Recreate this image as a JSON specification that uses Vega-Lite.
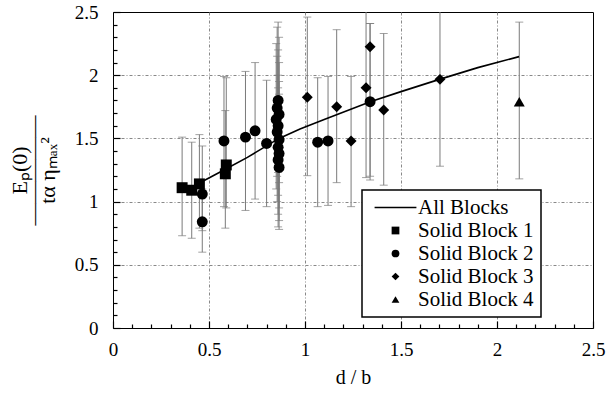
{
  "$schema": "https://vega.github.io/schema/vega-lite/v6.json",
  "autosize": {"type": "none"},
  "padding": {"left": 113, "top": 12, "right": 17, "bottom": 68},
  "width": 480,
  "height": 316,
  "background": "white",
  "config": {
    "view": {"stroke": "black", "strokeWidth": 1},
    "font": "Liberation Serif",
    "axis": {
      "domain": false,
      "ticks": true,
      "labelFont": "Liberation Serif",
      "labelFontSize": 19,
      "labelColor": "black",
      "labelOverlap": false,
      "tickCount": 30,
      "titleFont": "Liberation Serif",
      "titleFontSize": 20,
      "titleFontWeight": "normal",
      "titleColor": "black",
      "tickColor": "black",
      "tickWidth": 1.2,
      "gridColor": "#888888",
      "gridDash": [3, 2, 1, 2],
      "gridWidth": 1
    },
    "legend": {
      "orient": "none",
      "legendX": 249,
      "legendY": 178,
      "fillColor": "white",
      "strokeColor": "black",
      "strokeWidth": 1.5,
      "padding": 7,
      "labelFont": "Liberation Serif",
      "labelFontSize": 21,
      "labelColor": "black",
      "symbolFillColor": "black",
      "symbolStrokeColor": "black",
      "symbolStrokeWidth": 0,
      "symbolSize": 60,
      "symbolOffset": 16,
      "labelOffset": 12,
      "rowPadding": 1
    }
  },
  "datasets": {
    "pts": [
      {"block": "Solid Block 1", "x": 0.36, "y": 1.11, "lo": 0.73, "hi": 1.51},
      {"block": "Solid Block 1", "x": 0.41, "y": 1.09, "lo": 0.71, "hi": 1.47},
      {"block": "Solid Block 1", "x": 0.45, "y": 1.14, "lo": 0.79, "hi": 1.53},
      {"block": "Solid Block 1", "x": 0.585, "y": 1.22, "lo": 0.79, "hi": 1.72},
      {"block": "Solid Block 1", "x": 0.59, "y": 1.29, "lo": 0.95, "hi": 1.98},
      {"block": "Solid Block 2", "x": 0.465, "y": 1.06, "lo": 0.77, "hi": 1.44},
      {"block": "Solid Block 2", "x": 0.465, "y": 0.84, "lo": 0.6, "hi": 1.1},
      {"block": "Solid Block 2", "x": 0.578, "y": 1.48, "lo": 0.96, "hi": 1.99},
      {"block": "Solid Block 2", "x": 0.69, "y": 1.51, "lo": 0.93, "hi": 2.03},
      {"block": "Solid Block 2", "x": 0.74, "y": 1.56, "lo": 1.02, "hi": 2.1},
      {"block": "Solid Block 2", "x": 0.8, "y": 1.46, "lo": 0.96, "hi": 1.96},
      {"block": "Solid Block 2", "x": 0.86, "y": 1.8, "lo": 1.23, "hi": 2.42},
      {"block": "Solid Block 2", "x": 0.855, "y": 1.74, "lo": 1.2, "hi": 2.38},
      {"block": "Solid Block 2", "x": 0.865, "y": 1.69, "lo": 1.15, "hi": 2.3},
      {"block": "Solid Block 2", "x": 0.85, "y": 1.65, "lo": 1.1, "hi": 2.25},
      {"block": "Solid Block 2", "x": 0.86, "y": 1.6, "lo": 1.05, "hi": 2.2},
      {"block": "Solid Block 2", "x": 0.855, "y": 1.55, "lo": 1.0, "hi": 2.15},
      {"block": "Solid Block 2", "x": 0.865, "y": 1.49, "lo": 0.95, "hi": 2.1},
      {"block": "Solid Block 2", "x": 0.86, "y": 1.43, "lo": 0.9, "hi": 2.0},
      {"block": "Solid Block 2", "x": 0.865, "y": 1.38, "lo": 0.85, "hi": 1.95},
      {"block": "Solid Block 2", "x": 0.86, "y": 1.33, "lo": 0.8, "hi": 1.9},
      {"block": "Solid Block 2", "x": 0.865, "y": 1.27, "lo": 0.78, "hi": 1.85},
      {"block": "Solid Block 2", "x": 1.066, "y": 1.47, "lo": 0.96, "hi": 1.98},
      {"block": "Solid Block 2", "x": 1.12, "y": 1.48, "lo": 0.97, "hi": 1.99},
      {"block": "Solid Block 2", "x": 1.339, "y": 1.79, "lo": 1.17, "hi": 2.41},
      {"block": "Solid Block 3", "x": 1.012, "y": 1.825, "lo": 1.205, "hi": 2.46},
      {"block": "Solid Block 3", "x": 1.165, "y": 1.75, "lo": 1.15, "hi": 2.36},
      {"block": "Solid Block 3", "x": 1.24, "y": 1.48, "lo": 0.96, "hi": 1.99},
      {"block": "Solid Block 3", "x": 1.318, "y": 1.9, "lo": 1.19, "hi": 2.6},
      {"block": "Solid Block 3", "x": 1.339, "y": 2.225, "lo": 1.2, "hi": 2.41},
      {"block": "Solid Block 3", "x": 1.41, "y": 1.725, "lo": 1.13, "hi": 2.33},
      {"block": "Solid Block 3", "x": 1.703, "y": 1.967, "lo": 1.28, "hi": 2.6},
      {"block": "Solid Block 4", "x": 2.116, "y": 1.79, "lo": 1.18, "hi": 2.42}
    ],
    "fit": [
      {"x": 0.448, "y": 1.145},
      {"x": 0.59, "y": 1.26},
      {"x": 0.7, "y": 1.35},
      {"x": 0.865, "y": 1.5},
      {"x": 0.974, "y": 1.575},
      {"x": 1.1, "y": 1.65},
      {"x": 1.34, "y": 1.79},
      {"x": 1.5, "y": 1.87},
      {"x": 1.7, "y": 1.967},
      {"x": 1.9, "y": 2.06},
      {"x": 2.115, "y": 2.147}
    ]
  },
  "layer": [
    {
      "data": {"name": "pts"},
      "mark": {"type": "rule", "color": "#7a7a7a", "strokeWidth": 1, "clip": true},
      "encoding": {
        "x": {
          "field": "x", "type": "quantitative",
          "scale": {"domain": [0, 2.5], "nice": false, "zero": false},
          "axis": {
            "title": "d / b",
            "titlePadding": 5,
            "values": [0,0.1,0.2,0.3,0.4,0.5,0.6,0.7,0.8,0.9,1,1.1,1.2,1.3,1.4,1.5,1.6,1.7,1.8,1.9,2,2.1,2.2,2.3,2.4,2.5],
            "labelExpr": "abs(round(datum.value*10) % 5) == 0 ? format(datum.value, '~g') : ''",
            "tickSize": {"condition": {"test": "abs(round(datum.value*10) % 5) == 0", "value": -7}, "value": -4},
            "gridOpacity": {"condition": {"test": "abs(round(datum.value*10) % 5) == 0 && datum.value > 0 && datum.value < 2.5", "value": 1}, "value": 0},
            "labelPadding": 19,
            "labelFlush": false
          }
        },
        "y": {
          "field": "lo", "type": "quantitative",
          "scale": {"domain": [0, 2.5], "nice": false},
          "axis": {
            "title": ["Eₚ(0)", "—————", "tα ηₘₐₓ²"],
            "titleFontSize": 22,
            "titleLineHeight": 14,
            "titlePadding": 15,
            "values": [0,0.1,0.2,0.3,0.4,0.5,0.6,0.7,0.8,0.9,1,1.1,1.2,1.3,1.4,1.5,1.6,1.7,1.8,1.9,2,2.1,2.2,2.3,2.4,2.5],
            "labelExpr": "abs(round(datum.value*10) % 5) == 0 ? format(datum.value, '~g') : ''",
            "tickSize": {"condition": {"test": "abs(round(datum.value*10) % 5) == 0", "value": -7}, "value": -4},
            "gridOpacity": {"condition": {"test": "abs(round(datum.value*10) % 5) == 0 && datum.value > 0 && datum.value < 2.5", "value": 1}, "value": 0},
            "labelPadding": 22,
            "labelFlush": false
          }
        },
        "y2": {"field": "hi"}
      }
    },
    {
      "data": {"name": "pts"},
      "mark": {"type": "tick", "orient": "horizontal", "color": "#7a7a7a", "size": 8, "thickness": 1, "clip": true},
      "encoding": {
        "x": {"field": "x", "type": "quantitative"},
        "y": {"field": "lo", "type": "quantitative"}
      }
    },
    {
      "data": {"name": "pts"},
      "mark": {"type": "tick", "orient": "horizontal", "color": "#7a7a7a", "size": 8, "thickness": 1, "clip": true},
      "encoding": {
        "x": {"field": "x", "type": "quantitative"},
        "y": {"field": "hi", "type": "quantitative"}
      }
    },
    {
      "data": {"name": "fit"},
      "mark": {"type": "line", "color": "black", "strokeWidth": 1.6},
      "encoding": {
        "x": {"field": "x", "type": "quantitative"},
        "y": {"field": "y", "type": "quantitative"}
      }
    },
    {
      "data": {"name": "pts"},
      "mark": {"type": "point", "filled": true, "color": "black", "opacity": 1, "size": 120},
      "encoding": {
        "x": {"field": "x", "type": "quantitative"},
        "y": {"field": "y", "type": "quantitative"},
        "shape": {
          "field": "block", "type": "nominal",
          "scale": {
            "domain": ["All Blocks", "Solid Block 1", "Solid Block 2", "Solid Block 3", "Solid Block 4"],
            "range": ["M-5.4,-0.17H5.4V0.17H-5.4Z", "square", "circle", "diamond", "triangle-up"]
          },
          "legend": {
            "title": null,
            "encode": {
              "symbols": {
                "update": {
                  "fill": {"value": "black"},
                  "fillOpacity": {"value": 1}
                }
              }
            }
          }
        }
      }
    }
  ]
}
